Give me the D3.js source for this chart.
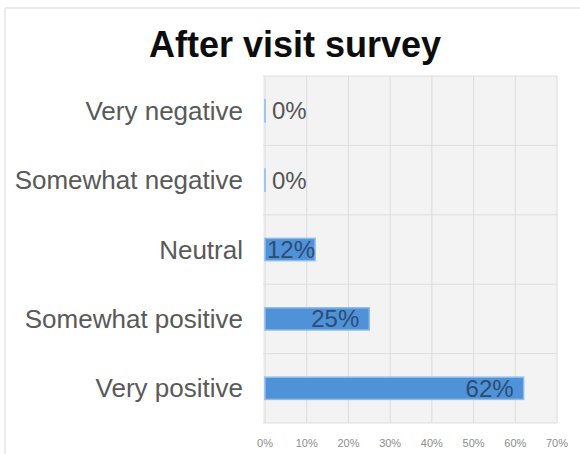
<!DOCTYPE html>
<html>
<head>
<meta charset="utf-8">
<script src="https://cdn.jsdelivr.net/npm/d3@7"></script>
<style>
  html, body { margin: 0; padding: 0; background: #fff; }
  svg { display: block; }
</style>
</head>
<body>
<svg id="chart" width="580" height="454"></svg>
<script>
// Survey responses, listed top to bottom
const categories = ["Very negative", "Somewhat negative", "Neutral", "Somewhat positive", "Very positive"];
const values = [0, 0, 12, 25, 62];
const tickValues = [0, 10, 20, 30, 40, 50, 60, 70];
const tickLabels = ["0%", "10%", "20%", "30%", "40%", "50%", "60%", "70%"];
const title = "After visit survey";

const svg = d3.select("#chart");
const W = 580, H = 454;
const plot = { left: 265, right: 557, top: 76, bottom: 423 };
const FONT = "Liberation Sans, Arial, sans-serif";

// outer frame (top and left edges are visible)
svg.append("line").attr("x1", 5).attr("x2", W).attr("y1", 8).attr("y2", 8)
  .attr("stroke", "#e4e4e4").attr("stroke-width", 1.5);
svg.append("line").attr("x1", 5).attr("x2", 5).attr("y1", 8).attr("y2", H)
  .attr("stroke", "#e4e4e4").attr("stroke-width", 1.5);

const x = d3.scaleLinear().domain([0, 70]).range([plot.left, plot.right]);
const y = d3.scaleBand().domain(categories).range([plot.top, plot.bottom]).paddingInner(0.68).paddingOuter(0.34);
const yBand = d3.scaleBand().domain(categories).range([plot.top, plot.bottom]);

// plot background
svg.append("rect")
  .attr("x", plot.left - 2).attr("y", plot.top)
  .attr("width", plot.right - plot.left + 2).attr("height", plot.bottom - plot.top)
  .attr("fill", "#f3f3f3");

// vertical gridlines
svg.append("g").selectAll("line").data(tickValues).join("line")
  .attr("x1", d => x(d)).attr("x2", d => x(d))
  .attr("y1", plot.top).attr("y2", plot.bottom)
  .attr("stroke", "#dcdcdc").attr("stroke-width", 1);

// horizontal separators between categories
const bounds = categories.map(c => yBand(c)).concat([plot.bottom]);
svg.append("g").selectAll("line").data(bounds).join("line")
  .attr("x1", plot.left - 2).attr("x2", plot.right)
  .attr("y1", d => d).attr("y2", d => d)
  .attr("stroke", "#dedede").attr("stroke-width", 1);

// bars (outlined, so a zero value still shows as a thin edge)
svg.append("g").selectAll("rect").data(values).join("rect")
  .attr("x", x(0))
  .attr("y", (d, i) => y(categories[i]))
  .attr("width", d => Math.max(x(d) - x(0), 0.01))
  .attr("height", y.bandwidth())
  .attr("fill", "#4f92d8")
  .attr("stroke", "#8fbbe8")
  .attr("stroke-width", 1.5);

// category labels
svg.append("g").selectAll("text").data(categories).join("text")
  .attr("x", 243)
  .attr("y", d => yBand(d) + yBand.bandwidth() / 2)
  .attr("text-anchor", "end")
  .attr("dominant-baseline", "central")
  .attr("font-family", FONT)
  .attr("font-size", 26)
  .attr("fill", "#595959")
  .text(d => d);

// value labels: inside end, pushed right when the bar is too short
const labelG = svg.append("g");
values.forEach((v, i) => {
  const t = labelG.append("text")
    .attr("y", yBand(categories[i]) + yBand.bandwidth() / 2)
    .attr("dominant-baseline", "central")
    .attr("text-anchor", "end")
    .attr("font-family", FONT)
    .attr("font-size", 24)
    .text(v + "%");
  const w = t.node().getComputedTextLength();
  const end = Math.max(x(v) - 10, x(0) + (v > 0 ? 2 : 7) + w);
  t.attr("x", end).attr("fill", v > 0 ? "#2c4d74" : "#555555");
});

// x axis tick labels
svg.append("g").selectAll("text").data(tickValues).join("text")
  .attr("x", d => x(d))
  .attr("y", 443)
  .attr("text-anchor", "middle")
  .attr("dominant-baseline", "central")
  .attr("font-family", FONT)
  .attr("font-size", 11)
  .attr("fill", "#8c8c8c")
  .text((d, i) => tickLabels[i]);

// title
svg.append("text")
  .attr("x", 295).attr("y", 57)
  .attr("text-anchor", "middle")
  .attr("font-family", FONT)
  .attr("font-weight", "bold")
  .attr("font-size", 36)
  .attr("fill", "#0d0d0d")
  .text(title);
</script>
</body>
</html>
